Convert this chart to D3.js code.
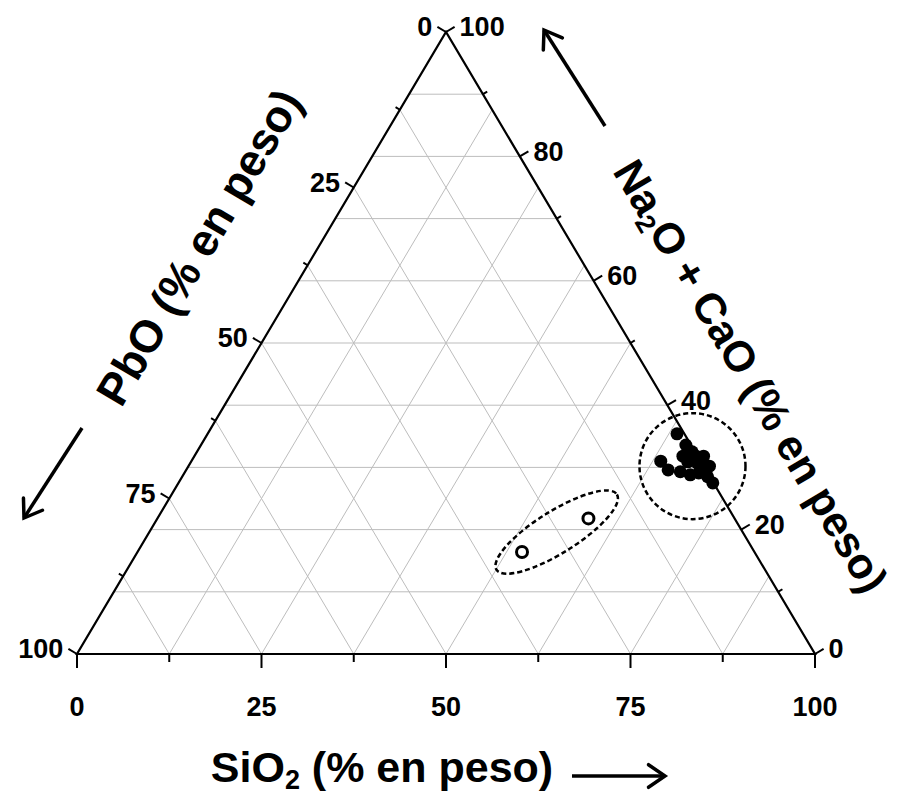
<!DOCTYPE html>
<html>
<head>
<meta charset="utf-8">
<script src="https://cdn.jsdelivr.net/npm/d3@7"></script>
<style>
  body { margin: 0; background: #fff; }
  svg { display: block; font-family: "Liberation Sans", Arial, sans-serif; font-weight: bold; }
</style>
</head>
<body>
<script>
// ternary composition, % en peso (SiO2 + Na2O+CaO + PbO = 100)
// vidrios sodico-calcicos (puntos llenos)
var filledSiO2 = [63.6, 63.6, 65.3, 67.1, 67.3, 67.1, 68.7, 69.7, 70.3, 71.2, 72.4, 68.7, 66.2, 69.0, 70.6, 65.7, 68.0, 69.9];
var filledNaCaO = [35.4, 31.0, 29.6, 29.3, 30.9, 32.5, 30.7, 29.1, 29.6, 28.5, 27.5, 28.8, 31.8, 31.8, 30.2, 33.6, 31.8, 29.9];
// vidrios plumbicos (puntos vacios)
var openSiO2 = [52.1, 58.4];
var openNaCaO = [16.4, 21.8];

// ticks
var bottomTicks = [0, 25, 50, 75, 100];
var leftTicks = [0, 25, 50, 75, 100];
var rightTicks = [0, 20, 40, 60, 80, 100];

var w = 906;
var h = 804;

var svg = d3.select("body")
            .append("svg")
            .attr("width", w)
            .attr("height", h);

// scales: horizontal position along the base and height of the triangle
var xScale = d3.scaleLinear().domain([0, 100]).range([77, 815]);
var yScale = d3.scaleLinear().domain([0, 100]).range([654, 32]);

function pos(s, n) {
  /* SiO2 and Na2O+CaO to pixel position */
  return [xScale(s + n / 2), yScale(n)];
}

var grid = svg.append("g").attr("class", "grid");

function gridLine(a, b) {
  grid.append("line")
      .attr("x1", a[0]).attr("y1", a[1])
      .attr("x2", b[0]).attr("y2", b[1])
      .attr("stroke", "#bdbdbd")
      .attr("stroke-width", 1);
}

// constant Na2O+CaO, every 10
d3.range(10, 100, 10).forEach(function(n) {
  gridLine(pos(0, n), pos(100 - n, n));
});
// constant SiO2 and constant PbO, every 12.5
d3.range(12.5, 100, 12.5).forEach(function(v) {
  gridLine(pos(v, 0), pos(v, 100 - v));
  gridLine(pos(100 - v, 0), pos(0, 100 - v));
});

// triangle edges
var corners = [pos(0, 0), pos(100, 0), pos(0, 100)];
svg.append("path")
   .attr("d", "M" + corners.join("L") + "Z")
   .attr("fill", "none")
   .attr("stroke", "#000")
   .attr("stroke-width", 2.2)
   .attr("stroke-linejoin", "miter");

// outward normals of the sides
function normal(a, b, sign) {
  var dx = b[0] - a[0], dy = b[1] - a[1];
  var l = Math.sqrt(dx * dx + dy * dy);
  return [sign * dy / l, -sign * dx / l];
}
var leftNormal = normal(pos(0, 0), pos(0, 100), 1);
var rightNormal = normal(pos(100, 0), pos(0, 100), -1);

var axes = svg.append("g").attr("class", "axes");

// bottom axis (SiO2)
d3.range(0, 100.1, 12.5).forEach(function(s) {
  var p = pos(s, 0);
  var len = s % 25 === 0 ? 14 : 8;
  axes.append("line")
      .attr("x1", p[0]).attr("y1", p[1])
      .attr("x2", p[0]).attr("y2", p[1] + len)
      .attr("stroke", "#000").attr("stroke-width", 2);
});
axes.selectAll(".blabel")
    .data(bottomTicks)
    .enter()
    .append("text")
    .attr("class", "blabel")
    .attr("x", function(d) { return pos(d, 0)[0]; })
    .attr("y", 716)
    .attr("text-anchor", "middle")
    .style("font-size", "27px")
    .text(function(d) { return d; });

// left axis (PbO), 0 at top
d3.range(0, 100.1, 12.5).forEach(function(pb) {
  var p = pos(0, 100 - pb);
  var len = pb % 25 === 0 ? 10 : 5;
  axes.append("line")
      .attr("x1", p[0]).attr("y1", p[1])
      .attr("x2", p[0] + leftNormal[0] * len).attr("y2", p[1] + leftNormal[1] * len)
      .attr("stroke", "#000").attr("stroke-width", 2);
});
axes.selectAll(".llabel")
    .data(leftTicks)
    .enter()
    .append("text")
    .attr("class", "llabel")
    .attr("x", function(d) { return pos(0, 100 - d)[0] + leftNormal[0] * 10 - 5; })
    .attr("y", function(d) { return pos(0, 100 - d)[1] + leftNormal[1] * 10; })
    .attr("dy", "0.35em")
    .attr("text-anchor", "end")
    .style("font-size", "27px")
    .text(function(d) { return d; });

// right axis (Na2O + CaO), 0 at bottom
d3.range(0, 100.1, 10).forEach(function(n) {
  var p = pos(100 - n, n);
  var len = n % 20 === 0 ? 10 : 5;
  axes.append("line")
      .attr("x1", p[0]).attr("y1", p[1])
      .attr("x2", p[0] + rightNormal[0] * len).attr("y2", p[1] + rightNormal[1] * len)
      .attr("stroke", "#000").attr("stroke-width", 2);
});
axes.selectAll(".rlabel")
    .data(rightTicks)
    .enter()
    .append("text")
    .attr("class", "rlabel")
    .attr("x", function(d) { return pos(100 - d, d)[0] + rightNormal[0] * 10 + 5; })
    .attr("y", function(d) { return pos(100 - d, d)[1] + rightNormal[1] * 10; })
    .attr("dy", "0.35em")
    .attr("text-anchor", "start")
    .style("font-size", "27px")
    .text(function(d) { return d; });

// dashed group outlines
var cluster = pos(68.3, 30.2);
svg.append("circle")
   .attr("cx", cluster[0]).attr("cy", cluster[1])
   .attr("r", 53)
   .attr("fill", "none")
   .attr("stroke", "#000")
   .attr("stroke-width", 2.5)
   .attr("stroke-dasharray", "5,3");

var lead = pos(55.2, 19.6);
svg.append("ellipse")
   .attr("cx", 0).attr("cy", 0)
   .attr("rx", 71).attr("ry", 21)
   .attr("transform", "translate(" + lead + ") rotate(-32)")
   .attr("fill", "none")
   .attr("stroke", "#000")
   .attr("stroke-width", 2.5)
   .attr("stroke-dasharray", "5,3");

// data points
svg.selectAll(".filled")
   .data(filledSiO2)
   .enter()
   .append("circle")
   .attr("class", "filled")
   .attr("cx", function(d, i) { return pos(d, filledNaCaO[i])[0]; })
   .attr("cy", function(d, i) { return pos(d, filledNaCaO[i])[1]; })
   .attr("r", 6.5)
   .attr("fill", "#000");

svg.selectAll(".open")
   .data(openSiO2)
   .enter()
   .append("circle")
   .attr("class", "open")
   .attr("cx", function(d, i) { return pos(d, openNaCaO[i])[0]; })
   .attr("cy", function(d, i) { return pos(d, openNaCaO[i])[1]; })
   .attr("r", 5.5)
   .attr("fill", "#fff")
   .attr("stroke", "#000")
   .attr("stroke-width", 3);

// axis titles
var leftAngle = Math.atan2(corners[2][1] - corners[0][1], corners[2][0] - corners[0][0]) * 180 / Math.PI;
var rightAngle = Math.atan2(corners[1][1] - corners[2][1], corners[1][0] - corners[2][0]) * 180 / Math.PI;

function arrow(x1, y1, x2, y2) {
  var a = Math.atan2(y2 - y1, x2 - x1);
  var head = 20, spread = 0.6;
  svg.append("line")
     .attr("x1", x1).attr("y1", y1).attr("x2", x2).attr("y2", y2)
     .attr("stroke", "#000").attr("stroke-width", 3.5);
  svg.append("polyline")
     .attr("points", [
        [x2 - head * Math.cos(a - spread), y2 - head * Math.sin(a - spread)],
        [x2, y2],
        [x2 - head * Math.cos(a + spread), y2 - head * Math.sin(a + spread)]
     ].join(" "))
     .attr("fill", "none")
     .attr("stroke", "#000").attr("stroke-width", 3.5)
     .attr("stroke-linecap", "round");
}

var bt = svg.append("text")
            .attr("x", 382).attr("y", 782)
            .attr("text-anchor", "middle")
            .style("font-size", "43px");
bt.append("tspan").text("SiO");
bt.append("tspan").attr("dy", 7).style("font-size", "27px").text("2");
bt.append("tspan").attr("dy", -7).text(" (% en peso)");
arrow(572, 776, 665, 776);

var lt = svg.append("text")
            .attr("transform", "translate(199,247) rotate(" + leftAngle + ")")
            .attr("text-anchor", "middle")
            .attr("dy", "0.35em")
            .style("font-size", "45px")
            .text("PbO (% en peso)");
arrow(82, 428, 24, 518);

var rt = svg.append("text")
            .attr("transform", "translate(751,376) rotate(" + rightAngle + ")")
            .attr("text-anchor", "middle")
            .attr("dy", "0.35em")
            .style("font-size", "43px");
rt.append("tspan").text("Na");
rt.append("tspan").attr("dy", 7).style("font-size", "27px").text("2");
rt.append("tspan").attr("dy", -7).text("O + CaO (% en peso)");
arrow(605, 126, 544, 30);
</script>
</body>
</html>
